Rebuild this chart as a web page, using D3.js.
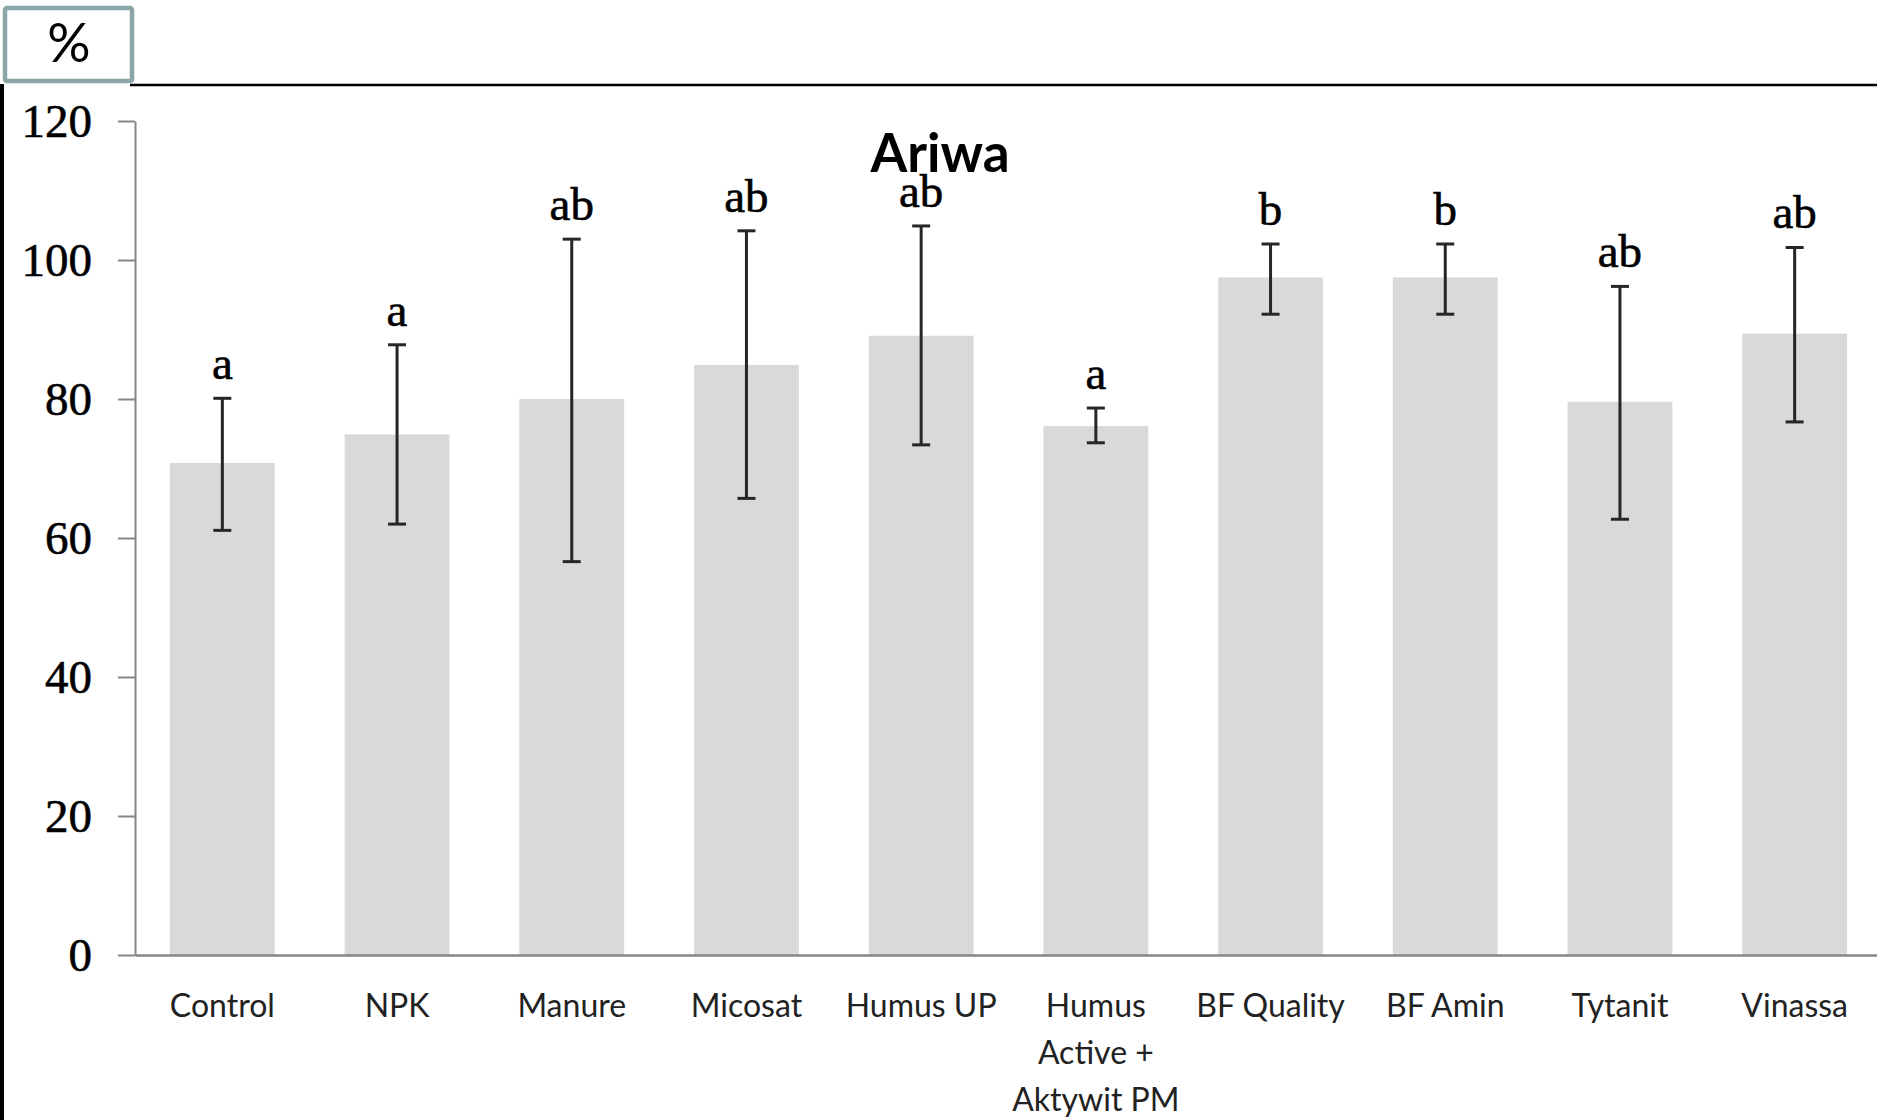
<!DOCTYPE html>
<html>
<head>
<meta charset="utf-8">
<script src="https://cdn.jsdelivr.net/npm/d3@7"></script>
<style>
    body { margin: 0; background: #fff; }
    svg { display: block; }
</style>
</head>
<body>
<div class="container"></div>
<script>
// data
const categories = ["Control", "NPK", "Manure", "Micosat", "Humus UP",
    "Humus\nActive +\nAktywit PM", "BF Quality", "BF Amin", "Tytanit", "Vinassa"];
const means = [70.8, 74.9, 80.0, 84.9, 89.1, 76.1, 97.5, 97.5, 79.6, 89.4];
const errUpper = [80.1, 87.8, 103.0, 104.2, 104.9, 78.7, 102.3, 102.3, 96.2, 101.8];
const errLower = [61.1, 62.0, 56.6, 65.7, 73.4, 73.7, 92.2, 92.2, 62.7, 76.7];
const groupLetters = ["a", "a", "ab", "ab", "ab", "a", "b", "b", "ab", "ab"];
const yTicks = [0, 20, 40, 60, 80, 100, 120];

const data = categories.map((c, i) => ({
    name: c,
    mean: means[i],
    hi: errUpper[i],
    lo: errLower[i],
    letter: groupLetters[i]
}));

//Set up chart
const
    svgWidth = 1877,
    svgHeight = 1120;

const margin = { top: 121, right: -5, bottom: 165, left: 135 };
const width = svgWidth - margin.left - margin.right;
const height = svgHeight - margin.top - margin.bottom;

const svg = d3.select(".container")
    .append("svg")
    .attr("width", svgWidth)
    .attr("height", svgHeight);

svg.append("rect")
    .attr("width", svgWidth)
    .attr("height", svgHeight)
    .attr("fill", "#fff");

// frame lines of the slide
svg.append("line")
    .attr("x1", 2).attr("x2", 2)
    .attr("y1", 84).attr("y2", svgHeight)
    .attr("stroke", "#000")
    .attr("stroke-width", 4);

svg.append("line")
    .attr("x1", 130).attr("x2", svgWidth)
    .attr("y1", 85).attr("y2", 85)
    .attr("stroke", "#000")
    .attr("stroke-width", 2.5);

// unit box
svg.append("rect")
    .attr("x", 5).attr("y", 8)
    .attr("width", 127).attr("height", 73)
    .attr("rx", 2)
    .attr("fill", "#fff")
    .attr("stroke", "#8ba6a6")
    .attr("stroke-width", 4.5);

svg.append("text")
    .attr("x", 69).attr("y", 62)
    .attr("text-anchor", "middle")
    .style("font-family", "Lato, 'Open Sans', sans-serif")
    .style("font-size", "54px")
    .attr("fill", "#000")
    .text("%");

const chartGroup = svg.append("g")
    .attr("transform", `translate(${margin.left}, ${margin.top})`);

//Scales
const xBandScale = d3.scaleBand()
    .domain(categories)
    .range([0, width])
    .paddingInner(0.4)
    .paddingOuter(0.2);

const yLinearScale = d3.scaleLinear()
    .domain([0, 120])
    .range([height, 0]);

//Bars
chartGroup.selectAll(".bar")
    .data(data)
    .enter()
    .append("rect")
    .attr("class", "bar")
    .attr("x", d => xBandScale(d.name))
    .attr("y", d => yLinearScale(d.mean))
    .attr("width", xBandScale.bandwidth())
    .attr("height", d => height - yLinearScale(d.mean))
    .attr("fill", "#d9d9d9");

//Axes
const leftAxis = d3.axisLeft(yLinearScale)
    .tickValues(yTicks)
    .tickSize(17)
    .tickSizeOuter(0)
    .tickPadding(26);

const yAxis = chartGroup.append("g").call(leftAxis);
yAxis.select(".domain").attr("stroke", "#868686").attr("stroke-width", 2);
yAxis.selectAll(".tick line").attr("stroke", "#868686").attr("stroke-width", 2);
yAxis.selectAll(".tick text")
    .attr("fill", "#000")
    .attr("stroke", "#000")
    .attr("stroke-width", 0.6)
    .attr("dy", "0.34em")
    .style("font-family", "'Liberation Serif', 'DejaVu Serif', serif")
    .style("font-size", "47px");

const bottomAxis = d3.axisBottom(xBandScale)
    .tickSize(0)
    .tickSizeOuter(0)
    .tickPadding(39);

const xAxis = chartGroup.append("g")
    .attr("transform", `translate(0, ${height})`)
    .call(bottomAxis);
xAxis.select(".domain").attr("stroke", "#868686").attr("stroke-width", 2.5);

// category labels, one tspan per line
const lineHeight = 47;
xAxis.selectAll(".tick text")
    .attr("fill", "#222")
    .style("font-family", "Lato, 'Open Sans', sans-serif")
    .style("font-size", "32px")
    .each(function(d) {
        const text = d3.select(this);
        const y = +text.attr("y");
        text.text(null);
        d.split("\n").forEach((part, i) => {
            text.append("tspan")
                .attr("x", 0)
                .attr("y", y + i * lineHeight)
                .attr("dy", "0.71em")
                .text(part);
        });
    });

//Error bars
const capHalf = 9;
const errGroup = chartGroup.selectAll(".err")
    .data(data)
    .enter()
    .append("g")
    .attr("class", "err")
    .attr("transform", d => `translate(${xBandScale(d.name) + xBandScale.bandwidth() / 2}, 0)`)
    .attr("stroke", "#262626")
    .attr("stroke-width", 3);

errGroup.append("line")
    .attr("x1", 0).attr("x2", 0)
    .attr("y1", d => yLinearScale(d.hi))
    .attr("y2", d => yLinearScale(d.lo));
errGroup.append("line")
    .attr("x1", -capHalf).attr("x2", capHalf)
    .attr("y1", d => yLinearScale(d.hi))
    .attr("y2", d => yLinearScale(d.hi));
errGroup.append("line")
    .attr("x1", -capHalf).attr("x2", capHalf)
    .attr("y1", d => yLinearScale(d.lo))
    .attr("y2", d => yLinearScale(d.lo));

//Significance letters
chartGroup.selectAll(".letter")
    .data(data)
    .enter()
    .append("text")
    .attr("class", "letter")
    .attr("x", d => xBandScale(d.name) + xBandScale.bandwidth() / 2)
    .attr("y", d => yLinearScale(d.hi) - 19)
    .attr("text-anchor", "middle")
    .attr("fill", "#000")
    .attr("stroke", "#000")
    .attr("stroke-width", 0.6)
    .style("font-family", "'Liberation Serif', 'DejaVu Serif', serif")
    .style("font-size", "47px")
    .text(d => d.letter);

//Title
svg.append("text")
    .attr("x", 940)
    .attr("y", 172)
    .attr("text-anchor", "middle")
    .attr("fill", "#000")
    .style("font-family", "Lato, 'Open Sans', sans-serif")
    .style("font-weight", "bold")
    .style("font-size", "53px")
    .text("Ariwa");
</script>
</body>
</html>
